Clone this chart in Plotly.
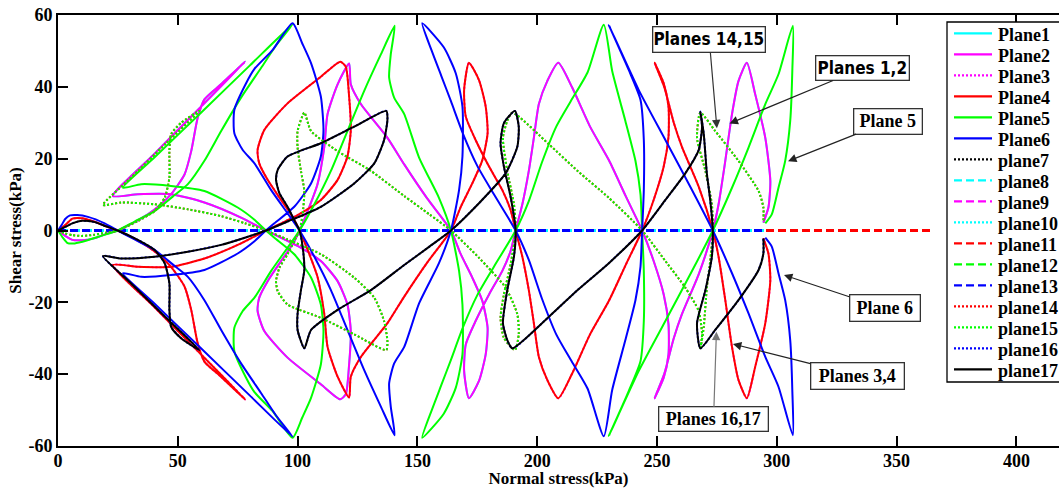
import plotly.graph_objects as go

# ---------------------------------------------------------------
# Stress paths (normal stress / shear stress, kPa) on each plane
# ---------------------------------------------------------------
plane6_x = [0, 1.5, 3, 5, 8, 12.5, 19.5, 24.9,
            32, 40.3, 48, 54.2, 61.1, 68.1, 76.4, 84.8, 91, 97.9,
            80, 60, 40, 27.1,
            34.7, 47.2, 61.1, 75, 82, 86.8,
            90.3, 98.6, 105.6, 109.7, 110.8, 109.7, 105.6, 102, 97.9,
            89.6, 82, 78.5, 73.6, 73.6, 77.1, 82, 88.9, 95.8, 100.8,
            107, 113.9, 120.8, 127.8, 134.8, 140.5,
            138.9, 138.2, 140.3, 144.5, 150.7, 159, 164,
            167.4, 168.8, 168.8, 166, 161, 152,
            156, 160, 164, 169, 175, 182, 191,
            196.5, 202, 208, 214, 221, 227.8,
            231.3, 236.8, 241, 243.1, 243.8,
            244.5, 244.5, 243.1, 238.2, 229.9,
            242.4, 253.5, 264.6, 273.3,
            281.3, 288.2, 295.2, 300.7, 306.7,
            306.5, 305.6, 303.5, 300.7, 297.9, 295.2]
plane6_y = [0, 1.5, 3.2, 4.2, 4.3, 3.8, 2, 0,
            -2.5, -5.4, -9.5, -12.9, -19.4, -27.7, -37, -45.3, -51.5, -57.4,
            -45.9, -33, -20.2, -11.9,
            -12.9, -12.4, -11, -6.4, -3, 0,
            2, 6.6, 13.1, 20.6, 28, 37.3, 46.6, 52, 57.7,
            50.3, 45, 41, 33.6, 27.1, 22.4, 18.7, 11.3, 4.8, 0,
            -7.3, -16.6, -27.7, -38.9, -49.1, -57,
            -49.1, -42.6, -37, -32.4, -20.3, -9.1, 0,
            11.3, 20.6, 34.5, 43.8, 51, 57.7,
            50, 43, 36, 27, 18, 10, 0,
            -8.2, -19, -29, -36, -44, -57.3,
            -44.4, -30.5, -19.4, -10.1, 0,
            11.3, 25.2, 36.4, 44.7, 57.2,
            39.1, 25.2, 11.3, 0,
            -11.9, -23.1, -35.2, -43.5, -57,
            -45, -30.5, -19.4, -11.9, -4.5, -2]

plane5_x = [0, 2, 4, 7, 12, 18, 24.9,
            32, 40.3, 48, 54.2, 61.1, 68.1, 76.4, 84.8, 91, 97.9,
            80, 60, 40, 27.1,
            34.7, 47.2, 61.1, 75, 82, 86.8,
            90.3, 98.6, 105.6, 109.7, 110.8, 109.7, 105.6, 102, 97.9,
            89.6, 82, 78.5, 73.6, 73.6, 77.1, 82, 88.9, 95.8, 100.8,
            107, 113.9, 120.8, 127.8, 134.8, 140.5,
            138.9, 138.2, 140.3, 144.5, 150.7, 159, 164,
            167.4, 168.8, 168.8, 166, 161, 152,
            156, 160, 164, 169, 175, 182, 191,
            196.5, 202, 208, 214, 221, 227.8,
            231.3, 236.8, 241, 243.1, 243.8,
            244.5, 244.5, 243.1, 238.2, 229.9,
            242.4, 253.5, 264.6, 273.3,
            281.3, 288.2, 295.2, 300.7, 306.7,
            306.5, 305.6, 303.5, 300.7, 297.9, 295.2]
plane5_y = [0, -2, -3.5, -3.6, -2.8, -1.5, 0,
            2.5, 5.4, 9.5, 12.9, 19.4, 27.7, 37, 45.3, 51.5, 57.4,
            45.9, 33, 20.2, 11.9,
            12.9, 12.4, 11, 6.4, 3, 0,
            -2, -6.6, -13.1, -20.6, -28, -37.3, -46.6, -52, -57.7,
            -50.3, -45, -41, -33.6, -27.1, -22.4, -18.7, -11.3, -4.8, 0,
            7.3, 16.6, 27.7, 38.9, 49.1, 57,
            49.1, 42.6, 37, 32.4, 20.3, 9.1, 0,
            -11.3, -20.6, -34.5, -43.8, -51, -57.7,
            -50, -43, -36, -27, -18, -10, 0,
            8.2, 19, 29, 36, 44, 57.3,
            44.4, 30.5, 19.4, 10.1, 0,
            -11.3, -25.2, -36.4, -44.7, -57.2,
            -39.1, -25.2, -11.3, 0,
            11.9, 23.1, 35.2, 43.5, 57,
            45, 30.5, 19.4, 11.9, 4.5, 2]

plane4_x = [0, 3, 6, 10, 15, 20, 24.9,
            31, 37.5, 42.5, 47.2, 52.8, 55.6, 58.3, 61.1, 68, 78.1,
            60, 40, 22.9,
            33.3, 47.2, 61.1, 76.4, 86.8,
            90.3, 100, 109.7, 116.7, 120.8, 122.2, 121.5, 120.1, 117.8,
            109.7, 95.8, 86.1, 83.3, 84, 87.5, 93.1, 97.9, 100.8,
            104.2, 108.3, 111.1, 112.5, 116.7, 121.5,
            122.2, 126.4, 137.5, 144.5, 154, 164,
            168.1, 172.9, 177.1, 179.3, 178.5, 175.7, 171.5,
            169.5, 170.2, 174.3, 179.9, 185.4, 188.9, 191,
            193.8, 196.5, 198.6, 200.7, 204.2, 208.8,
            214.6, 222, 230, 237, 243.8,
            248.6, 252.8, 254.8, 254.8, 252.8, 249,
            253, 257, 260.4, 267.4, 273.3,
            275.7, 278.5, 281.3, 284, 287.5,
            291, 295.2, 297.3, 296.5, 294.4]
plane4_y = [0, 1.5, 3.3, 3.4, 2.5, 1.2, 0,
            -2, -4.5, -7, -10.1, -15.6, -22.1, -31.4, -36.5, -40.7, -47,
            -34.7, -21.2, -9.6,
            -10.1, -10.1, -7.8, -3.6, 0,
            1.1, 4.3, 8.5, 14.1, 20.6, 28, 37.3, 45.6, 47,
            42.8, 35.4, 28, 22.4, 18.7, 14.1, 8.5, 3.8, 0,
            -5.4, -12.9, -23.1, -32.4, -40.7, -46.5,
            -40.7, -35.2, -25.8, -18.4, -9, 0,
            6.6, 13.1, 19.6, 27.1, 34.5, 41.9, 46.7,
            39.1, 31.7, 25.2, 17.8, 11.3, 5.7, 0,
            -7.3, -16.6, -25.8, -35.2, -41.6, -46.7,
            -39.8, -29, -19.5, -9.5, 0,
            8.5, 17.8, 26.1, 34.5, 41, 46.7,
            40, 30, 23.3, 12.2, 0,
            -7.3, -19.4, -32.4, -41.6, -46.7,
            -37.9, -25.8, -13.8, -6.4, -2.2]

plane2_x = [0, 3, 6, 10, 15, 20, 24.9,
            31, 37.5, 42.5, 47.2, 52.8, 55.6, 58.3, 61.1, 68, 78.1,
            60, 40, 22.9,
            33.3, 47.2, 61.1, 76.4, 86.8,
            90.3, 100, 109.7, 116.7, 120.8, 122.2, 121.5, 120.1, 117.8,
            109.7, 95.8, 86.1, 83.3, 84, 87.5, 93.1, 97.9, 100.8,
            104.2, 108.3, 111.1, 112.5, 116.7, 121.5,
            122.2, 126.4, 137.5, 144.5, 154, 164,
            168.1, 172.9, 177.1, 179.3, 178.5, 175.7, 171.5,
            169.5, 170.2, 174.3, 179.9, 185.4, 188.9, 191,
            193.8, 196.5, 198.6, 200.7, 204.2, 208.8,
            214.6, 222, 230, 237, 243.8,
            248.6, 252.8, 254.8, 254.8, 252.8, 249,
            253, 257, 260.4, 267.4, 273.3,
            275.7, 278.5, 281.3, 284, 287.5,
            291, 295.2, 297.3, 296.5, 294.4]
plane2_y = [0, -1.5, -2.6, -2.7, -2.2, -1, 0,
            2, 4.5, 7, 10.1, 15.6, 22.1, 31.4, 36.5, 40.7, 47,
            34.7, 21.2, 9.6,
            10.1, 10.1, 7.8, 3.6, 0,
            -1.1, -4.3, -8.5, -14.1, -20.6, -28, -37.3, -45.6, -47,
            -42.8, -35.4, -28, -22.4, -18.7, -14.1, -8.5, -3.8, 0,
            5.4, 12.9, 23.1, 32.4, 40.7, 46.5,
            40.7, 35.2, 25.8, 18.4, 9, 0,
            -6.6, -13.1, -19.6, -27.1, -34.5, -41.9, -46.7,
            -39.1, -31.7, -25.2, -17.8, -11.3, -5.7, 0,
            7.3, 16.6, 25.8, 35.2, 41.6, 46.7,
            39.8, 29, 19.5, 9.5, 0,
            -8.5, -17.8, -26.1, -34.5, -41, -46.7,
            -40, -30, -23.3, -12.2, 0,
            7.3, 19.4, 32.4, 41.6, 46.7,
            37.9, 25.8, 13.8, 6.4, 2.2]

plane17_x = [0, 3, 6, 10, 15, 20, 24.9,
             33.3, 40.3, 44.5, 46.5, 46.5, 47.2, 51.4, 59,
             45, 30, 18.75,
             26.4, 40.3, 54.2, 68.1, 78, 86.8,
             95.8, 109.7, 123.6, 132, 136.1, 137.5, 137,
             123.6, 109.7, 95.8, 91.7, 91, 92.4, 95.8, 98.6, 100.8,
             102.1, 102.8, 101.4, 100, 100, 102.8,
             105.6, 116.7, 130.6, 144.5, 155, 164,
             175.7, 186.8, 191.7, 192.3, 190.7,
             186.1, 184.7, 186.1, 188.9, 191,
             190.3, 187.5, 185.7, 187.5, 189.6,
             204.9, 217, 229.9, 243.8,
             253.5, 261.8, 267.4, 268.8, 268.1,
             269.5, 270.8, 272.2, 273.3,
             272.9, 270.2, 266.7, 268.1,
             274.3, 284, 292.4, 294.4, 294.4]
plane17_y = [0, 1, 2, 2.7, 2.4, 1.2, 0,
             -2.6, -5.4, -9.1, -14.7, -22.1, -26.8, -30, -33.3,
             -24.2, -14.4, -7.1,
             -7.8, -7.3, -5.9, -4, -2, 0,
             2.5, 6.6, 13.1, 18.7, 25.2, 31, 33.3,
             28.9, 24.3, 20.6, 16.9, 14.1, 10.4, 6.6, 2.9, 0,
             -4.5, -11, -16.6, -23.1, -27.7, -32.8,
             -27.7, -22.1, -16.6, -9.6, -4.5, 0,
             7.6, 15.9, 23.3, 28.9, 33.3,
             29.9, 24.3, 17.8, 9.4, 0,
             -7.3, -16.6, -25.8, -30.5, -32.8,
             -24, -16.5, -9.1, 0,
             8.5, 15.9, 22.4, 28.9, 33.1,
             27, 15.9, 8.5, 0,
             -7.3, -16.6, -25.8, -32.8,
             -27.7, -19.4, -11, -6.4, -2.2]

plane15_x = [0, 3, 6, 10, 15, 20, 24.9,
             33.3, 40.3, 44.5, 46.5, 46.5, 47.2, 51.4, 59,
             45, 30, 18.75,
             26.4, 40.3, 54.2, 68.1, 78, 86.8,
             95.8, 109.7, 123.6, 132, 136.1, 137.5, 137,
             123.6, 109.7, 95.8, 91.7, 91, 92.4, 95.8, 98.6, 100.8,
             102.1, 102.8, 101.4, 100, 100, 102.8,
             105.6, 116.7, 130.6, 144.5, 155, 164,
             175.7, 186.8, 191.7, 192.3, 190.7,
             186.1, 184.7, 186.1, 188.9, 191,
             190.3, 187.5, 185.7, 187.5, 189.6,
             204.9, 217, 229.9, 243.8,
             253.5, 261.8, 267.4, 268.8, 268.1,
             269.5, 270.8, 272.2, 273.3,
             272.9, 270.2, 266.7, 268.1,
             274.3, 284, 292.4, 294.4, 294.4]
plane15_y = [0, -0.8, -1.3, -1.5, -1.2, -0.6, 0,
             2.6, 5.4, 9.1, 14.7, 22.1, 26.8, 30, 33.3,
             24.2, 14.4, 7.1,
             7.8, 7.3, 5.9, 4, 2, 0,
             -2.5, -6.6, -13.1, -18.7, -25.2, -31, -33.3,
             -28.9, -24.3, -20.6, -16.9, -14.1, -10.4, -6.6, -2.9, 0,
             4.5, 11, 16.6, 23.1, 27.7, 32.8,
             27.7, 22.1, 16.6, 9.6, 4.5, 0,
             -7.6, -15.9, -23.3, -28.9, -33.3,
             -29.9, -24.3, -17.8, -9.4, 0,
             7.3, 16.6, 25.8, 30.5, 32.8,
             24, 16.5, 9.1, 0,
             -8.5, -15.9, -22.4, -28.9, -33.1,
             -27, -15.9, -8.5, 0,
             7.3, 16.6, 25.8, 32.8,
             27.7, 19.4, 11, 6.4, 2.2]

# planes that carry no shear stress
zero_x_short = [0, 295]
zero_x_mid = [0, 300]
zero_x_long = [0, 364]
zero_y = [0, 0]

plane_names = ["Plane1", "Plane2", "Plane3", "Plane4", "Plane5", "Plane6",
               "plane7", "plane8", "plane9", "plane10", "plane11", "plane12",
               "plane13", "plane14", "plane15", "plane16", "plane17"]

x_ticks = [0, 50, 100, 150, 200, 250, 300, 350, 400]
y_ticks = [-60, -40, -20, 0, 20, 40, 60]

# ---------------------------------------------------------------
# Styling
# ---------------------------------------------------------------
CYAN, MAG, RED, GRN, BLU, BLK = "#00FFFF", "#FF00FF", "#FF0000", "#00FF00", "#0000FF", "#000000"
DASHES = {"solid": "solid", "dot": "2px,2px", "dash": "8px,4px"}

# (name, colour, dash style, x, y, drawing layer)
# layer 0: zero-shear lines, drawn first; layer 1: stress paths on top
series = [
    (plane_names[0], CYAN, "solid", plane2_x, plane2_y, 1),
    (plane_names[1], MAG, "solid", plane2_x, plane2_y, 1),
    (plane_names[2], MAG, "dot", plane4_x, plane4_y, 1),
    (plane_names[3], RED, "solid", plane4_x, plane4_y, 1),
    (plane_names[4], GRN, "solid", plane5_x, plane5_y, 1),
    (plane_names[5], BLU, "solid", plane6_x, plane6_y, 1),
    (plane_names[6], BLK, "dot", zero_x_short, zero_y, 0),
    (plane_names[7], CYAN, "dash", zero_x_mid, zero_y, 0),
    (plane_names[8], MAG, "dash", zero_x_short, zero_y, 0),
    (plane_names[9], CYAN, "dot", zero_x_short, zero_y, 0),
    (plane_names[10], RED, "dash", zero_x_long, zero_y, 0),
    (plane_names[11], GRN, "dash", zero_x_short, zero_y, 0),
    (plane_names[12], BLU, "dash", zero_x_short, zero_y, 0),
    (plane_names[13], RED, "dot", plane15_x, plane15_y, 1),
    (plane_names[14], GRN, "dot", plane15_x, plane15_y, 1),
    (plane_names[15], BLU, "dot", plane17_x, plane17_y, 1),
    (plane_names[16], BLK, "solid", plane17_x, plane17_y, 1),
]

# drawing order of the zero-shear lines (blue dashes end up on top)
zero_order = [plane_names[i] for i in (6, 9, 7, 8, 11, 10, 12)]

W, H = 1059, 488
ML, MR, MT, MB = 58, 0, 15, 42
PW, PH = W - ML - MR, H - MT - MB
X_MAX = PW / 2.396

SERIF = "Liberation Serif, Times New Roman, serif"
NARROW = "Liberation Sans Narrow, Arial Narrow, DejaVu Sans Condensed, Liberation Sans, Arial, sans-serif"


def px_x(px):
    return (px - ML) / PW


def px_y(py):
    return (MT + PH - py) / PH


by_name = {s[0]: s for s in series}
ordered = [by_name[n] for n in zero_order] + [s for s in series if s[5] == 1]

fig = go.Figure()
for name, color, dash, xs, ys, layer in ordered:
    flat = layer == 0
    fig.add_trace(go.Scatter(
        x=xs, y=ys, mode="lines", name=name, showlegend=False,
        line=dict(color=color, width=3 if flat else 2, dash=DASHES[dash],
                  shape="linear" if flat else "spline", smoothing=0.6),
        hoverinfo="skip",
    ))

shapes = []
annotations = []

# legend panel
shapes.append(dict(type="rect", xref="paper", yref="paper",
                   x0=px_x(947), x1=px_x(1075), y0=px_y(382), y1=px_y(22),
                   fillcolor="white", line=dict(color="black", width=1.3), layer="above"))
for i, (name, color, dash, _, _, _) in enumerate(series):
    yl = 33.3 + 21.0 * i
    shapes.append(dict(type="line", xref="paper", yref="paper",
                       x0=px_x(954), x1=px_x(992), y0=px_y(yl), y1=px_y(yl),
                       line=dict(color=color, width=2.2, dash=DASHES[dash]), layer="above"))
    annotations.append(dict(xref="paper", yref="paper", x=px_x(996), y=px_y(yl + 2),
                            xanchor="left", yanchor="middle", showarrow=False, text=name,
                            font=dict(family=SERIF, size=18, color="black", weight="bold")))

# call-out labels with arrows
callouts = [
    dict(text="Planes 14,15", x=275.0, y=28.5, ax=271.8, ay=53.2, w=111, h=24, font=NARROW, fs=17, ac="#333333"),
    dict(text="Planes 1,2", x=280.3, y=29.8, ax=335.9, ay=45.2, w=92, h=23, font=NARROW, fs=17, ac="#222222"),
    dict(text="Plane 5", x=304.7, y=19.3, ax=346.6, ay=30.4, w=67, h=24, font=SERIF, fs=18, ac="#222222"),
    dict(text="Plane 6", x=303.0, y=-12.4, ax=345.0, ay=-21.7, w=69, h=25, font=SERIF, fs=18, ac="#222222"),
    dict(text="Planes 3,4", x=281.7, y=-31.6, ax=333.6, ay=-40.4, w=92, h=25, font=SERIF, fs=18, ac="#222222"),
    dict(text="Planes 16,17", x=274.8, y=-28.2, ax=273.6, ay=-52.5, w=108, h=23, font=SERIF, fs=18, ac="#777777"),
]
for c in callouts:
    annotations.append(dict(
        x=c["x"], y=c["y"], xref="x", yref="y", ax=c["ax"], ay=c["ay"], axref="x", ayref="y",
        text=c["text"], showarrow=True, arrowhead=2, arrowsize=1.4, arrowwidth=1.2,
        arrowcolor=c["ac"], standoff=0, width=c["w"], height=c["h"], align="center",
        bgcolor="white", bordercolor="#333333", borderwidth=1.3, borderpad=0,
        font=dict(family=c["font"], size=c["fs"], color="black", weight="bold"),
    ))

tick_font = dict(family=SERIF, size=18, color="black", weight="bold")
title_font = dict(family=SERIF, size=17, color="black", weight="bold")

fig.update_layout(
    template="none",
    width=W, height=H,
    margin=dict(l=ML, r=MR, t=MT, b=MB, pad=0),
    paper_bgcolor="white", plot_bgcolor="white",
    showlegend=False,
    shapes=shapes,
    annotations=annotations,
    xaxis=dict(range=[0, X_MAX], tickvals=x_ticks, ticktext=[str(v) for v in x_ticks],
               ticks="inside", ticklen=10, tickwidth=1.5, tickcolor="black",
               showline=True, linewidth=2, linecolor="black", mirror="ticks",
               showgrid=False, zeroline=False, tickfont=tick_font, ticklabelstandoff=-3,
               title=dict(text="Normal stress(kPa)", font=title_font, standoff=6)),
    yaxis=dict(range=[-60, 60], tickvals=y_ticks, ticktext=[str(v) for v in y_ticks],
               ticks="inside", ticklen=10, tickwidth=1.5, tickcolor="black",
               showline=True, linewidth=2, linecolor="black", mirror=False,
               showgrid=False, zeroline=False, tickfont=tick_font,
               title=dict(text="Shear stress(kPa)", font=title_font, standoff=2)),
)

fig.write_html("out.html")
